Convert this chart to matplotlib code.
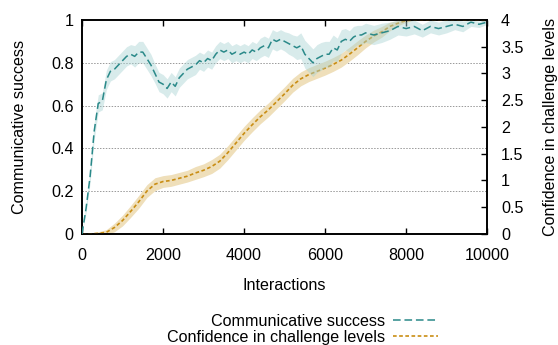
"""Communicative success and confidence in challenge levels over interactions."""
import numpy as np
import matplotlib
matplotlib.use("Agg")
import matplotlib.pyplot as plt

plt.rcParams['font.family'] = ['Liberation Sans', 'DejaVu Sans']
plt.rcParams['font.size'] = 11.6

# communicative success (left axis)
succ_x = [0, 100, 200, 300, 400, 500, 600, 700, 800, 900,
          1000, 1100, 1200, 1300, 1400, 1500, 1600, 1700, 1800, 1900,
          2000, 2100, 2200, 2300, 2400, 2500, 2600, 2700, 2800, 2900,
          3000, 3100, 3200, 3300, 3400, 3500, 3600, 3700, 3800, 3900,
          4000, 4100, 4200, 4300, 4400, 4500, 4600, 4700, 4800, 4900,
          5000, 5100, 5200, 5300, 5400, 5500, 5600, 5700, 5800, 5900,
          6000, 6100, 6200, 6300, 6400, 6500, 6600, 6700, 6800, 6900,
          7000, 7200, 7400, 7600, 7800, 8000, 8200, 8400, 8600, 8800,
          9000, 9200, 9400, 9600, 9800, 10000]
succ_y = [0.0, 0.12, 0.27, 0.48, 0.61, 0.62, 0.72, 0.76, 0.77, 0.79,
          0.81, 0.83, 0.84, 0.83, 0.85, 0.85, 0.82, 0.79, 0.75, 0.71,
          0.70, 0.68, 0.71, 0.69, 0.73, 0.75, 0.77, 0.78, 0.79, 0.81,
          0.80, 0.82, 0.81, 0.84, 0.86, 0.85, 0.86, 0.84, 0.85, 0.84,
          0.85, 0.84, 0.86, 0.85, 0.87, 0.88, 0.87, 0.91, 0.90, 0.91,
          0.90, 0.89, 0.88, 0.87, 0.88, 0.84, 0.82, 0.80, 0.82, 0.83,
          0.84, 0.84, 0.87, 0.86, 0.90, 0.91, 0.90, 0.92, 0.93, 0.93,
          0.94, 0.93, 0.94, 0.95, 0.97, 0.96, 0.97, 0.95, 0.97, 0.96,
          0.97, 0.98, 0.97, 0.99, 0.98, 0.99]
succ_err = [0.0, 0.02, 0.03, 0.04, 0.04, 0.04, 0.045, 0.045, 0.045, 0.045,
            0.045, 0.045, 0.045, 0.05, 0.05, 0.05, 0.05, 0.05, 0.045, 0.045,
            0.045, 0.045, 0.045, 0.045, 0.045, 0.045, 0.045, 0.045, 0.045, 0.04,
            0.04, 0.04, 0.04, 0.04, 0.04, 0.04, 0.04, 0.04, 0.04, 0.04,
            0.04, 0.04, 0.04, 0.04, 0.045, 0.045, 0.045, 0.045, 0.045, 0.045,
            0.045, 0.05, 0.05, 0.055, 0.06, 0.065, 0.065, 0.065, 0.065, 0.065,
            0.06, 0.06, 0.06, 0.055, 0.055, 0.05, 0.05, 0.05, 0.045, 0.045,
            0.045, 0.045, 0.045, 0.04, 0.04, 0.035, 0.035, 0.03, 0.03, 0.03,
            0.03, 0.025, 0.025, 0.02, 0.015, 0.01]

# confidence in challenge levels (right axis)
conf_x = [0, 200, 400, 600, 800, 1000, 1200, 1400, 1600, 1800,
          2000, 2200, 2400, 2600, 2800, 3000, 3200, 3400, 3600, 3800,
          4000, 4200, 4400, 4600, 4800, 5000, 5200, 5400, 5600, 5800,
          6000, 6200, 6400, 6600, 6800, 7000, 7200, 7400, 7600, 7800,
          8000, 8200, 8400, 8600, 8800, 9000, 9200, 9400, 9600, 9800, 10000]
conf_y = [0.0, 0.0, 0.01, 0.03, 0.12, 0.25, 0.42, 0.60, 0.80, 0.93,
          0.98, 1.00, 1.04, 1.08, 1.14, 1.19, 1.26, 1.36, 1.52, 1.70,
          1.88, 2.04, 2.19, 2.32, 2.47, 2.62, 2.78, 2.90, 2.98, 3.04,
          3.10, 3.17, 3.25, 3.36, 3.48, 3.60, 3.70, 3.78, 3.88, 3.94,
          3.99, 4.0, 4.0, 4.0, 4.0, 4.0, 4.0, 4.0, 4.0, 4.0, 4.0]
conf_err = [0.0, 0.02, 0.03, 0.05, 0.08, 0.1, 0.11, 0.12, 0.12, 0.12,
            0.11, 0.11, 0.11, 0.11, 0.12, 0.12, 0.13, 0.13, 0.13, 0.13,
            0.13, 0.13, 0.13, 0.13, 0.13, 0.13, 0.13, 0.13, 0.13, 0.13,
            0.13, 0.13, 0.13, 0.13, 0.13, 0.12, 0.11, 0.1, 0.08, 0.05,
            0.03, 0.0, 0.0, 0.0, 0.0, 0.0, 0.0, 0.0, 0.0, 0.0, 0.0]

teal = '#2a8989'
gold = '#c98d13'

fig = plt.figure(figsize=(5.58, 3.45), dpi=100)
ax = fig.add_axes([0.147, 0.322, 0.726, 0.620])
ax2 = ax.twinx()

sx = np.array(succ_x)
sy = np.array(succ_y)
se = np.array(succ_err)
cx = np.array(conf_x)
cy = np.array(conf_y)
ce = np.array(conf_err)

ax2.fill_between(cx, cy - ce, np.minimum(cy + ce, 4.0), color='#efdfba',
                 lw=0, zorder=1)
l2, = ax2.plot(cx, cy, color=gold, lw=1.2, dashes=(2.2, 1.5), zorder=3,
               label='Confidence in challenge levels')
ax.fill_between(sx, sy - se, np.minimum(sy + se, 1.0), color='#a9d3d3', alpha=0.45,
                lw=0, zorder=2)
l1, = ax.plot(sx, sy, color=teal, lw=1.1, dashes=(5, 2.5), zorder=4,
              label='Communicative success')

# teal drawn over gold
ax.set_zorder(ax2.get_zorder() + 1)
ax.patch.set_visible(False)

ax.set_xlim(0, 10000)
ax.set_ylim(0, 1)
ax2.set_ylim(0, 4)
ax.set_xticks([0, 2000, 4000, 6000, 8000, 10000])
ax.set_yticks([0, 0.2, 0.4, 0.6, 0.8, 1])
ax.set_yticklabels(['0', '0.2', '0.4', '0.6', '0.8', '1'])
ax2.set_yticks([0, 0.5, 1, 1.5, 2, 2.5, 3, 3.5, 4])
ax2.set_yticklabels(['0', '0.5', '1', '1.5', '2', '2.5', '3', '3.5', '4'])

for yv in [0.2, 0.4, 0.6, 0.8]:
    ax2.axhline(yv * 4, color='#999999', lw=0.7, ls=(0, (1.5, 1.5)), zorder=0)

ax.tick_params(axis='x', direction='in', top=True, length=4, width=1, pad=10)
ax.tick_params(axis='y', direction='in', length=0, pad=6)
ax2.tick_params(axis='y', direction='in', length=4, width=1, pad=10)
for a in (ax, ax2):
    for s in a.spines.values():
        s.set_linewidth(1.2)

ax.set_xlabel('Interactions', labelpad=11)
ax.set_ylabel('Communicative success', labelpad=17)
ax2.set_ylabel('Confidence in challenge levels', labelpad=14)

fig.legend(handles=[l1, l2], loc='upper right', bbox_to_anchor=(0.80, 0.113),
           frameon=False, markerfirst=False, handlelength=2.8,
           handletextpad=0.5, labelspacing=0.05, borderpad=0, fontsize=11.6)

fig.savefig('out.png', dpi=100)
